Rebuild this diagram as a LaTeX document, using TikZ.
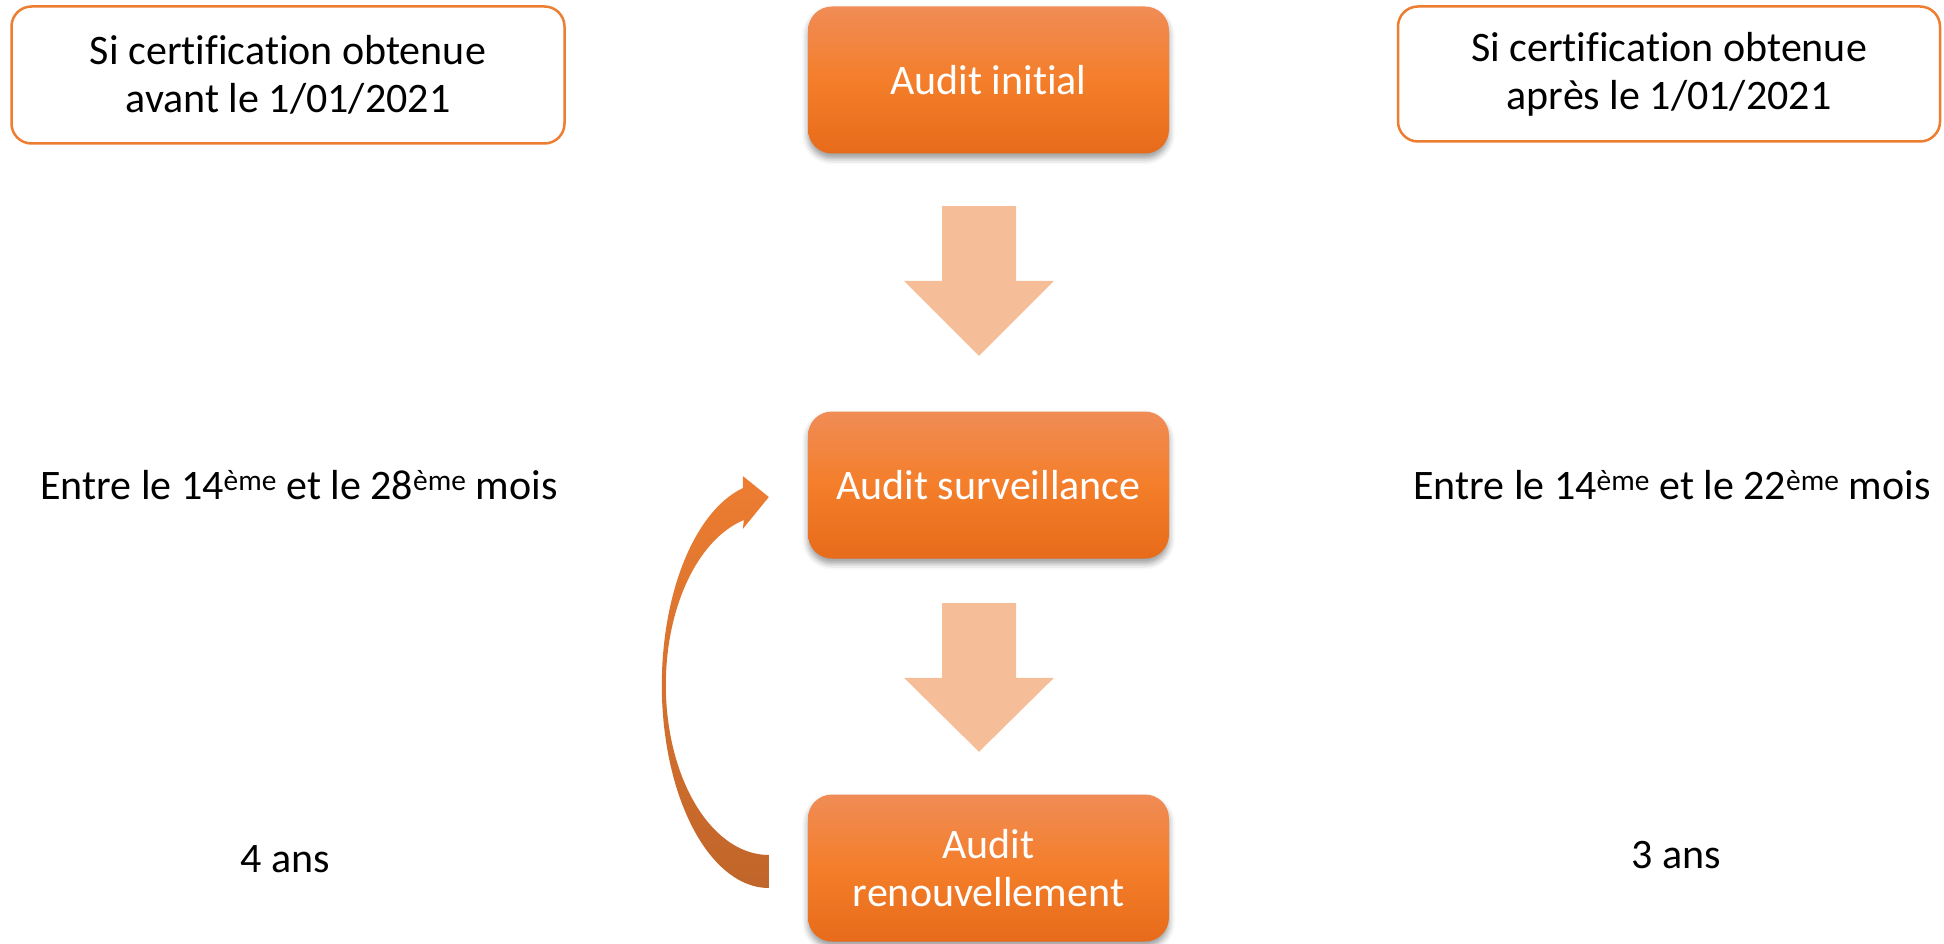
\documentclass[tikz,border=0pt]{standalone}
\usepackage{fontspec}
\setmainfont{Carlito}[Ligatures=CommonOff]
\usetikzlibrary{calc,shadows.blur}
\definecolor{oborder}{RGB}{237,125,49}
\definecolor{otop}{RGB}{240,140,86}
\definecolor{omid}{RGB}{244,126,42}
\definecolor{obot}{RGB}{231,107,26}
\definecolor{arrowfill}{RGB}{245,190,152}
\definecolor{ctop}{RGB}{237,125,49}
\definecolor{cbot}{RGB}{192,101,42}
\begin{document}
\begin{tikzpicture}[x=1pt,y=-1pt,
  txt/.style={font=\fontsize{42}{48}\selectfont, align=center, inner sep=0pt},
  infobox/.style={txt, draw=oborder, line width=2.5pt, rounded corners=20pt, fill=white},
  stepbox/.style={txt, text=white, rounded corners=24pt, top color=otop, bottom color=obot, middle color=omid,
    minimum width=361pt, minimum height=147pt,
    blur shadow={shadow xshift=0pt, shadow yshift=-5pt, shadow blur radius=6pt, shadow opacity=40}},
  blockarrow/.style={fill=arrowfill},
]
\useasboundingbox (0,0) rectangle (1944,944);

% info boxes
\node[infobox, minimum width=553pt, minimum height=137pt] (left) at (288,75) {Si certification obtenue\\avant le 1/01/2021};
\node[infobox, minimum width=542pt, minimum height=135pt] (right) at (1669,74) {Si certification obtenue\\après le 1/01/2021};

% steps
\node[stepbox] (init) at (988.5,80) {Audit initial};
\node[stepbox] (surv) at (988.5,485) {Audit surveillance};
\node[stepbox] (renew) at (988.5,868) {Audit\\renouvellement};

% side texts
\node[txt] (l1) at (299,485) {Entre le 14\textsuperscript{ème} et le 28\textsuperscript{ème} mois};
\node[txt] (r1) at (1672,485) {Entre le 14\textsuperscript{ème} et le 22\textsuperscript{ème} mois};
\node[txt] (l2) at (285,859) {4 ans};
\node[txt] (r2) at (1676,855) {3 ans};

% block arrow 1
\coordinate (a1top) at ($(init.south)+(-9.5,52.5)$);
\coordinate (a1tip) at ($(surv.north)+(-9.5,-55.5)$);
\fill[blockarrow] ($(a1top)+(-37,0)$) -- ($(a1top)+(37,0)$) -- ($(a1tip)+(37,-75)$) -- ($(a1tip)+(75,-75)$)
  -- (a1tip) -- ($(a1tip)+(-75,-75)$) -- ($(a1tip)+(-37,-75)$) -- cycle;

% block arrow 2
\coordinate (a2top) at ($(surv.south)+(-9.5,44.5)$);
\coordinate (a2tip) at ($(renew.north)+(-9.5,-42.5)$);
\fill[blockarrow] ($(a2top)+(-37,0)$) -- ($(a2top)+(37,0)$) -- ($(a2tip)+(37,-74)$) -- ($(a2tip)+(75,-74)$)
  -- (a2tip) -- ($(a2tip)+(-75,-74)$) -- ($(a2tip)+(-37,-74)$) -- cycle;

% curved arrow from renew back to surv
\begin{scope}[shift={($($(surv.west)!0.5!(renew.west)$)+(-39,8.5)$)}]
\shade[top color=ctop, bottom color=cbot]
  plot[domain=90:256, samples=80] ({107*cos(\x)},{203*sin(\x)})
  -- (-26,-209) -- (0,-188) -- (-26,-156)
  -- plot[domain=256:90, samples=80] ({103*cos(\x)},{170*sin(\x)}) -- cycle;
\end{scope}
\end{tikzpicture}
\end{document}
